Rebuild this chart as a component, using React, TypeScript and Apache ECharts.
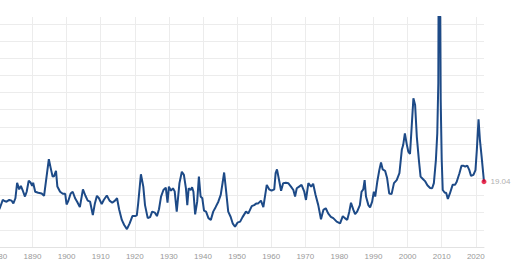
import React, { useEffect, useRef } from "react";
import * as echarts from "echarts";

const years = [
  1880.3, 1881.3, 1881.8, 1882.4, 1883.2, 1883.9, 1884.4, 1885.0, 1885.5, 1886.1,
  1886.6, 1887.1, 1887.8, 1888.3, 1888.9, 1889.5, 1889.9, 1890.2, 1890.8, 1891.7,
  1892.7, 1893.4, 1894.2, 1894.8, 1895.3, 1895.9, 1896.3, 1896.9, 1897.3, 1898.1,
  1898.9, 1899.6, 1900.0, 1900.5, 1901.2, 1901.8, 1902.5, 1903.1, 1903.9, 1904.8,
  1905.5, 1906.2, 1906.9, 1907.7, 1908.3, 1908.9, 1909.5, 1910.3, 1910.9, 1911.8,
  1912.6, 1913.4, 1914.2, 1914.8, 1915.4, 1916.2, 1916.9, 1917.7, 1918.5, 1919.3,
  1920.1, 1920.6, 1921.0, 1921.8, 1922.5, 1923.0, 1923.8, 1924.5, 1925.1, 1925.9,
  1926.5, 1927.1, 1927.7, 1928.4, 1929.1, 1929.6, 1930.0, 1930.6, 1931.2, 1931.7,
  1932.3, 1933.1, 1933.8, 1934.4, 1935.0, 1935.4, 1935.8, 1936.4, 1936.8, 1937.2,
  1937.7, 1938.3, 1938.8, 1939.3, 1939.8, 1940.3, 1940.9, 1941.6, 1942.3, 1943.0,
  1943.7, 1944.5, 1945.2, 1945.8, 1946.2, 1946.7, 1947.4, 1948.1, 1948.7, 1949.4,
  1950.1, 1950.9, 1951.6, 1952.6, 1953.3, 1954.3, 1955.0, 1955.7, 1956.2, 1957.0,
  1957.7, 1958.7, 1959.4, 1960.1, 1960.9, 1961.3, 1961.7, 1962.3, 1962.9, 1963.5,
  1964.3, 1965.0, 1965.8, 1966.5, 1967.0, 1967.5, 1968.2, 1968.9, 1969.7, 1970.2,
  1970.9, 1971.7, 1972.3, 1973.0, 1973.8, 1974.6, 1975.3, 1976.0, 1976.7, 1977.5,
  1978.2, 1979.2, 1980.2, 1981.0, 1981.6, 1982.3, 1982.9, 1983.4, 1984.1, 1984.6,
  1985.2, 1986.0, 1986.5, 1987.0, 1987.4, 1987.8, 1988.5, 1989.0, 1989.6, 1990.1,
  1990.5, 1991.1, 1991.7, 1992.2, 1992.7, 1993.4, 1994.0, 1994.6, 1995.3, 1996.0,
  1996.8, 1997.6, 1998.3, 1998.7, 1999.2, 1999.7, 2000.2, 2000.7, 2001.2, 2001.7,
  2002.2, 2002.7, 2003.3, 2003.8, 2004.4, 2005.1, 2005.8, 2006.6, 2007.2, 2007.7,
  2008.3, 2008.7, 2009.0, 2009.25, 2009.7, 2010.0, 2010.3, 2010.9, 2011.3, 2011.8,
  2012.4, 2013.2, 2013.9, 2014.4, 2015.2, 2015.8, 2016.3, 2016.9, 2017.5, 2018.1,
  2018.6, 2019.3, 2019.9, 2020.3, 2020.8, 2021.2, 2021.7, 2022.4,
];

const peRatio = [
  11.0, 13.7, 13.4, 13.2, 13.7, 13.5, 12.7, 14.2, 18.7, 16.8,
  17.8, 16.6, 14.7, 16.1, 19.3, 18.7, 17.8, 18.7, 16.1, 15.8,
  15.6, 14.9, 21.0, 25.6, 23.2, 20.5, 20.6, 22.2, 17.6, 16.1,
  15.5, 15.5, 12.4, 13.4, 15.6, 16.1, 14.2, 13.2, 11.6, 16.8,
  15.0, 13.5, 13.2, 9.3, 12.7, 14.9, 14.2, 12.5, 13.7, 15.0,
  13.5, 12.9, 13.5, 14.2, 11.0, 7.9, 6.4, 5.2, 6.9, 9.0,
  9.0, 9.2, 12.7, 21.2, 17.6, 12.2, 8.4, 8.7, 10.3, 10.0,
  9.0, 11.0, 14.7, 16.6, 17.3, 12.9, 17.6, 16.4, 17.1, 16.2,
  10.3, 18.6, 21.9, 21.0, 17.1, 12.2, 17.1, 16.6, 17.4, 16.1,
  9.5, 13.2, 20.5, 14.7, 14.2, 10.6, 10.3, 8.4, 7.9, 10.3,
  11.6, 13.2, 15.2, 19.0, 21.7, 17.1, 10.3, 8.8, 6.9, 5.9,
  7.1, 7.4, 8.7, 10.3, 9.8, 11.9, 12.2, 12.7, 12.7, 13.5,
  11.6, 18.1, 16.8, 16.4, 16.8, 21.5, 22.6, 19.5, 16.4, 18.6,
  18.7, 18.6, 17.6, 16.6, 14.7, 17.1, 17.6, 18.1, 16.1, 13.7,
  18.6, 17.6, 18.4, 15.2, 12.2, 8.1, 10.8, 11.3, 9.8, 8.8,
  8.4, 7.4, 6.9, 9.0, 8.4, 7.9, 10.3, 12.9, 10.8, 9.6,
  10.3, 12.2, 16.1, 16.8, 19.5, 14.7, 12.2, 11.5, 13.2, 16.1,
  14.7, 19.0, 22.4, 24.6, 22.6, 22.2, 20.0, 15.6, 15.4, 18.6,
  19.5, 21.5, 28.3, 29.7, 33.1, 30.2, 27.8, 27.1, 35.1, 43.3,
  41.4, 32.1, 25.4, 20.5, 19.9, 19.2, 18.0, 17.2, 17.1, 18.6,
  25.4, 33.1, 47.7, 123.7, 42.8, 25.4, 16.6, 15.8, 15.8, 14.0,
  15.6, 18.1, 18.1, 19.0, 21.5, 23.7, 23.7, 23.4, 23.7, 22.4,
  20.7, 21.0, 22.4, 28.3, 37.2, 31.2, 26.3, 19.04,
];

const decadeTicks = [1890, 1900, 1910, 1920, 1930, 1940, 1950, 1960, 1970, 1980, 1990, 2000, 2010, 2020];
const leftCutTick = 1880;

export default function App() {
  const ref = useRef<HTMLDivElement>(null);

  useEffect(() => {
    document.body.style.margin = "0";
    const chart = echarts.init(ref.current!, null, { renderer: "svg" });
    const pairs = years.map((y, i) => [y, peRatio[i]]);
    const lastIdx = years.length - 1;
    const last = [years[lastIdx], peRatio[lastIdx]];
    const labelFont = "Liberation Sans, Arial, sans-serif";

    chart.setOption({
      animation: false,
      grid: { left: 0, right: 36, top: 17, bottom: 25, containLabel: false },
      xAxis: {
        type: "value",
        min: 1880.48,
        max: years[lastIdx],
        axisLine: { show: true, lineStyle: { color: "#e2e2e2", width: 1 } },
        axisTick: { show: false, customValues: decadeTicks },
        axisLabel: {
          color: "#999999",
          fontSize: 8,
          margin: 5,
          fontFamily: labelFont,
          customValues: decadeTicks,
          formatter: (v: number) => String(v),
        },
        splitLine: { show: true, lineStyle: { color: "#ececec", width: 1 } },
      },
      yAxis: {
        type: "value",
        min: 0,
        max: 67,
        interval: 5,
        axisLabel: { show: false },
        axisLine: { show: false },
        axisTick: { show: false },
        splitLine: { show: true, showMaxLine: false, lineStyle: { color: "#ececec", width: 1 } },
      },
      series: [
        {
          type: "line",
          data: pairs,
          symbol: "none",
          showSymbol: false,
          clip: true,
          lineStyle: { color: "#1d4a87", width: 2 },
          z: 3,
        },
        {
          type: "scatter",
          data: [last],
          symbolSize: 5,
          clip: false,
          itemStyle: { color: "#e4002b" },
          label: {
            show: true,
            position: "right",
            distance: 4,
            formatter: () => String(last[1]),
            color: "#999999",
            fontSize: 8,
            fontFamily: labelFont,
          },
          z: 5,
        },
      ],
    });

    // The 1880 label sits left of the visible plot edge and is cut off in the reference.
    const px = chart.convertToPixel({ xAxisIndex: 0 }, leftCutTick) as number;
    const py = chart.convertToPixel({ yAxisIndex: 0 }, 0) as number;
    chart.setOption({
      graphic: [
        {
          type: "text",
          x: px,
          y: py + 5,
          style: {
            text: String(leftCutTick),
            fill: "#999999",
            font: `8px ${labelFont}`,
            align: "center",
            verticalAlign: "top",
          },
        },
      ],
    });

    return () => chart.dispose();
  }, []);

  return <div ref={ref} style={{ width: 520, height: 272 }} />;
}
